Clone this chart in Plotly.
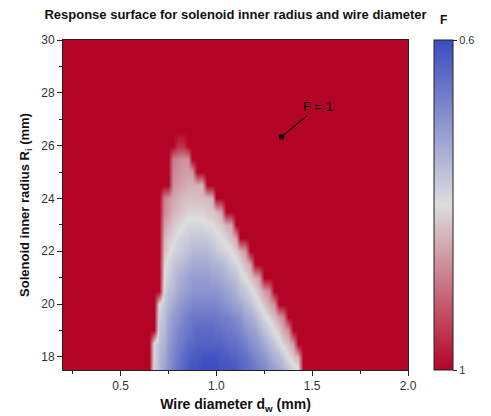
import numpy as np
import plotly.graph_objects as go

# Response surface F(d_w, R_i); F = 1 marks the infeasible designs.
wire_diameter_step = 0.025          # mm, column spacing of the sampled grid
radius_mm = [17.5, 18.0, 18.5, 19.0, 19.5, 20.0, 20.5, 21.0, 21.5,
             22.0, 22.5, 23.0, 23.5, 24.0, 24.5, 25.0, 25.5, 26.0]
# first feasible wire diameter (mm) in each radius row
row_start_mm = [0.675, 0.675, 0.675, 0.700, 0.700, 0.700, 0.725, 0.725, 0.725,
                0.725, 0.725, 0.725, 0.725, 0.725, 0.775, 0.775, 0.775, 0.800]
# F values of the feasible designs, one list per radius row
F_rows = [
    [0.78, 0.75, 0.72, 0.70, 0.67, 0.65, 0.64, 0.62, 0.61, 0.61, 0.60, 0.60, 0.60, 0.60, 0.61, 0.61,
     0.61, 0.62, 0.63, 0.64, 0.65, 0.66, 0.67, 0.68, 0.70, 0.71, 0.73, 0.74, 0.76, 0.78, 0.80],
    [0.79, 0.75, 0.73, 0.70, 0.68, 0.66, 0.64, 0.63, 0.62, 0.62, 0.61, 0.61, 0.61, 0.61, 0.62, 0.62,
     0.63, 0.63, 0.64, 0.65, 0.66, 0.68, 0.69, 0.70, 0.72, 0.74, 0.75, 0.77, 0.80, 0.82, 0.84],
    [0.79, 0.76, 0.74, 0.71, 0.69, 0.67, 0.66, 0.64, 0.64, 0.63, 0.63, 0.63, 0.63, 0.63, 0.63, 0.64,
     0.65, 0.65, 0.66, 0.67, 0.69, 0.70, 0.71, 0.73, 0.75, 0.77, 0.79, 0.81, 0.83, 0.86],
    [0.77, 0.75, 0.72, 0.70, 0.68, 0.67, 0.66, 0.65, 0.64, 0.64, 0.64, 0.64, 0.65, 0.65, 0.66, 0.66,
     0.67, 0.68, 0.70, 0.71, 0.72, 0.74, 0.76, 0.78, 0.80, 0.82, 0.85, 0.87],
    [0.78, 0.76, 0.73, 0.71, 0.70, 0.68, 0.67, 0.66, 0.66, 0.66, 0.66, 0.66, 0.66, 0.67, 0.67, 0.68,
     0.69, 0.70, 0.72, 0.73, 0.75, 0.77, 0.79, 0.81, 0.83, 0.86, 0.88],
    [0.80, 0.77, 0.75, 0.73, 0.71, 0.70, 0.69, 0.68, 0.68, 0.68, 0.68, 0.68, 0.68, 0.69, 0.70, 0.71,
     0.72, 0.73, 0.75, 0.76, 0.78, 0.80, 0.82, 0.85, 0.87],
    [0.79, 0.76, 0.75, 0.73, 0.72, 0.71, 0.70, 0.70, 0.70, 0.70, 0.70, 0.70, 0.71, 0.72, 0.73, 0.74,
     0.76, 0.77, 0.79, 0.81, 0.83, 0.86, 0.88],
    [0.80, 0.78, 0.76, 0.74, 0.73, 0.72, 0.71, 0.71, 0.71, 0.71, 0.72, 0.72, 0.73, 0.74, 0.75, 0.76,
     0.78, 0.80, 0.82, 0.84, 0.86],
    [0.81, 0.79, 0.77, 0.76, 0.75, 0.74, 0.73, 0.73, 0.73, 0.73, 0.74, 0.74, 0.75, 0.76, 0.78, 0.79,
     0.81, 0.83, 0.85],
    [0.83, 0.81, 0.79, 0.78, 0.77, 0.76, 0.75, 0.75, 0.75, 0.75, 0.76, 0.77, 0.78, 0.79, 0.80, 0.82,
     0.84, 0.86],
    [0.84, 0.82, 0.81, 0.79, 0.78, 0.78, 0.77, 0.77, 0.77, 0.77, 0.78, 0.79, 0.80, 0.81, 0.83, 0.85],
    [0.86, 0.84, 0.82, 0.81, 0.80, 0.79, 0.79, 0.79, 0.79, 0.80, 0.80, 0.81, 0.82, 0.84, 0.85],
    [0.88, 0.86, 0.84, 0.83, 0.82, 0.81, 0.81, 0.81, 0.81, 0.82, 0.82, 0.83, 0.85],
    [0.89, 0.87, 0.85, 0.84, 0.83, 0.83, 0.83, 0.83, 0.83, 0.83, 0.84],
    [0.87, 0.86, 0.85, 0.84, 0.84, 0.84, 0.84],
    [0.88, 0.87, 0.86, 0.86, 0.86],
    [0.89, 0.88, 0.87, 0.87],
    [0.96, 0.96],
]

x_ticks = [0.5, 1.0, 1.5, 2.0]
y_ticks = [18, 20, 22, 24, 26, 28, 30]
cbar_ticks = [0.6, 1.0]

# full sampling grid: F = 1 everywhere, feasible rows written on top
d_grid = np.linspace(0.2, 2.0, 73)
r_grid = np.linspace(17.5, 30.0, 26)
F = np.ones((len(r_grid), len(d_grid)))
for r, d0, vals in zip(radius_mm, row_start_mm, F_rows):
    i = int(round((r - 17.5) / 0.5))
    j = int(round((d0 - 0.2) / wire_diameter_step))
    F[i, j:j + len(vals)] = vals

# colour bar runs 0.6 (top) -> 1 (bottom), so the surface is shown as -F
coolwarm = [[0.0, "rgb(180,4,38)"], [0.5, "rgb(221,221,221)"], [1.0, "rgb(59,76,192)"]]

FONT = "Liberation Sans"
CBAR_X = 1.075      # left edge of the colour bar, in plot-area fractions
CBAR_W = 19         # px

fig = go.Figure(go.Heatmap(
    x=d_grid, y=r_grid, z=-F,
    zmin=-1.0, zmax=-0.6, zsmooth="best",
    colorscale=coolwarm,
    hovertemplate="d_w=%{x:.3f} mm<br>R_i=%{y:.1f} mm<extra></extra>",
    colorbar=dict(
        x=CBAR_X, xanchor="left", xpad=0, y=0.5, yanchor="middle", ypad=0,
        len=1.0, lenmode="fraction",
        thickness=CBAR_W, outlinewidth=1, outlinecolor="#222",
        tickvals=[-v for v in cbar_ticks], ticktext=["0.6", "1"],
        ticks="outside", ticklen=4, tickcolor="#222",
        tickfont=dict(size=11, family=FONT, color="#333"),
    ),
))

# colour bar title, centred over the bar
fig.add_annotation(
    x=CBAR_X, xref="paper", xshift=CBAR_W / 2, y=1.0, yref="paper", yshift=11,
    text="<b>F</b>", showarrow=False, xanchor="center", yanchor="bottom",
    font=dict(size=12, family=FONT, color="#111"),
)

fig.add_annotation(
    x=1.34, y=26.33, xref="x", yref="y",
    text="F = 1", showarrow=True, ax=36, ay=-30,
    arrowhead=6, arrowsize=1.2, arrowwidth=1.1, arrowcolor="black",
    font=dict(size=13, family=FONT, color="black"),
)

fig.update_layout(
    width=491, height=416,
    margin=dict(l=63, r=83, t=40, b=46, autoexpand=False),
    paper_bgcolor="white", plot_bgcolor="white",
    font=dict(family=FONT, color="#222"),
    title=dict(text="<b>Response surface for solenoid inner radius and wire diameter</b>",
               x=0.5, xref="paper", xanchor="center", y=0.965, yanchor="middle",
               font=dict(size=13, family=FONT, color="#111")),
    xaxis=dict(
        range=[0.2, 2.0], tickvals=x_ticks, ticktext=["0.5", "1.0", "1.5", "2.0"],
        ticks="outside", ticklen=5, tickcolor="#222",
        minor=dict(tickvals=[0.25, 0.75, 1.25, 1.75], ticks="outside", ticklen=3, tickcolor="#222"),
        showline=True, linecolor="#222", linewidth=1, mirror=True, showgrid=False, zeroline=False,
        tickfont=dict(size=12, family=FONT, color="#333"),
        title=dict(text="<b>Wire diameter d<sub>w</sub> (mm)</b>", standoff=6,
                   font=dict(size=14, family=FONT, color="#111")),
    ),
    yaxis=dict(
        range=[17.5, 30.0], tickvals=y_ticks,
        ticks="outside", ticklen=5, tickcolor="#222",
        minor=dict(tickvals=[19, 21, 23, 25, 27, 29], ticks="outside", ticklen=3, tickcolor="#222"),
        showline=True, linecolor="#222", linewidth=1, mirror=True, showgrid=False, zeroline=False,
        tickfont=dict(size=12, family=FONT, color="#333"),
        title=dict(text="<b>Solenoid inner radius R<sub>i</sub> (mm)</b>", standoff=8,
                   font=dict(size=13, family=FONT, color="#111")),
    ),
)

fig.write_html("out.html")
